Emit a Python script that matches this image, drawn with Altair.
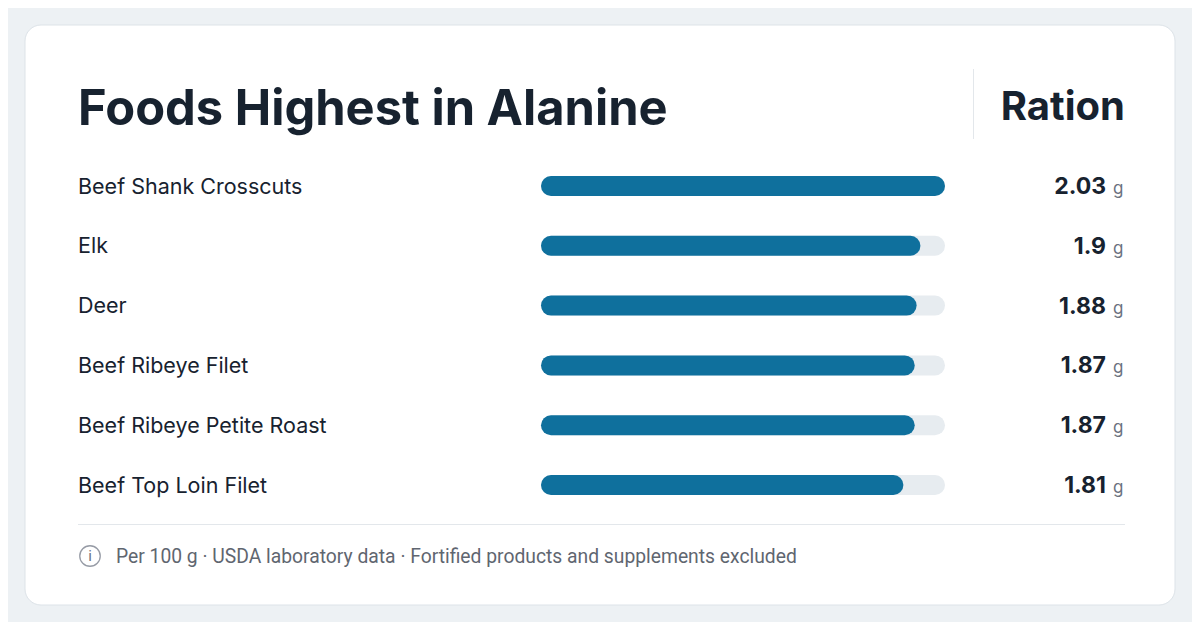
import altair as alt
import pandas as pd

foods = ["Beef Shank Crosscuts", "Elk", "Deer", "Beef Ribeye Filet",
         "Beef Ribeye Petite Roast", "Beef Top Loin Filet"]
values = [2.03, 1.9, 1.88, 1.87, 1.87, 1.81]
value_labels = ["2.03", "1.9", "1.88", "1.87", "1.87", "1.81"]
unit = "g"
title_text = "Foods Highest in Alanine"
column_header = "Ration"
footer_text = "Per 100 g · USDA laboratory data · Fortified products and supplements excluded"

df = pd.DataFrame({"food": foods, "value": values, "label": value_labels,
                   "unit": [unit] * len(foods), "zero": [0] * len(foods),
                   "max": [max(values)] * len(foods)})
one = pd.DataFrame({"k": [0]})

OFF = 8  # page margin
DARK = "#17222f"
GRAY = "#6b7280"
LINE = "#e3e7eb"

xs = alt.Scale(domain=[0, max(values)], range=[551 - OFF, 935 - OFF], nice=False, zero=True)
ys = alt.Scale(type="point", domain=foods, range=[186 - OFF, 485 - OFF], padding=0)

card = alt.Chart(one).mark_rect(
    fill="white", stroke="#dde3e8", strokeWidth=1, cornerRadius=16
).encode(
    x=alt.value(25 - OFF), x2=alt.value(1175 - OFF),
    y=alt.value(25 - OFF), y2=alt.value(605 - OFF)
)

title = alt.Chart(one).mark_text(
    text=title_text, font="Inter", fontSize=48.8, fontWeight="bold", color=DARK,
    align="left", baseline="alphabetic"
).encode(x=alt.value(78 - OFF), y=alt.value(125 - OFF))

header = alt.Chart(one).mark_text(
    text=column_header, font="Inter", fontSize=40, fontWeight="bold", color=DARK,
    align="right", baseline="alphabetic"
).encode(x=alt.value(1125 - OFF), y=alt.value(120 - OFF))

sep = alt.Chart(one).mark_rule(color=LINE, strokeWidth=1).encode(
    x=alt.value(973.5 - OFF), y=alt.value(69 - OFF), y2=alt.value(139 - OFF)
)

hline = alt.Chart(one).mark_rule(color=LINE, strokeWidth=1).encode(
    x=alt.value(78 - OFF), x2=alt.value(1125 - OFF), y=alt.value(524.5 - OFF)
)

track = alt.Chart(df).mark_rule(color="#e7ecf0", strokeWidth=20, strokeCap="round").encode(
    x=alt.X("zero:Q", scale=xs, axis=None),
    x2="max:Q",
    y=alt.Y("food:N", scale=ys, axis=None, sort=None),
)

bars = alt.Chart(df).mark_rule(color="#0f709d", strokeWidth=20, strokeCap="round").encode(
    x=alt.X("zero:Q", scale=xs, axis=None),
    x2="value:Q",
    y=alt.Y("food:N", scale=ys, axis=None, sort=None),
)

labels = alt.Chart(df).mark_text(
    font="Inter", fontSize=21.5, color=DARK, align="left", baseline="middle", dy=1.5
).encode(
    x=alt.value(78 - OFF),
    y=alt.Y("food:N", scale=ys, axis=None, sort=None),
    text="food:N",
)

nums = alt.Chart(df).mark_text(
    font="Inter", fontSize=23, fontWeight="bold", color=DARK, align="right",
    baseline="alphabetic", dy=8
).encode(
    x=alt.value(1106 - OFF),
    y=alt.Y("food:N", scale=ys, axis=None, sort=None),
    text="label:N",
)

units = alt.Chart(df).mark_text(
    font="Inter", fontSize=17, color=GRAY, align="left",
    baseline="alphabetic", dy=8
).encode(
    x=alt.value(1113 - OFF),
    y=alt.Y("food:N", scale=ys, axis=None, sort=None),
    text="unit:N",
)

icon = alt.Chart(one).mark_point(
    shape="circle", size=420, filled=False, stroke="#6b7280", strokeWidth=1.3
).encode(x=alt.value(90 - OFF), y=alt.value(556 - OFF))

icon_i = alt.Chart(one).mark_text(
    text="i", font="Roboto", fontSize=15, color="#6b7280", align="center", baseline="middle"
).encode(x=alt.value(90 - OFF), y=alt.value(556 - OFF))

footer = alt.Chart(one).mark_text(
    text=footer_text, font="Roboto", fontSize=19.3, color="#5f6670",
    align="left", baseline="middle", dy=1
).encode(x=alt.value(116 - OFF), y=alt.value(556 - OFF))

chart = alt.layer(
    card, title, header, sep, hline, track, bars, labels, nums, units, icon, icon_i, footer
).properties(
    width=1184, height=614, background="#edf1f4", padding=0,
    autosize=alt.AutoSizeParams(type="none")
).configure_view(stroke=None)

chart.save("out.html", embed_options={"renderer": "svg", "actions": False})
